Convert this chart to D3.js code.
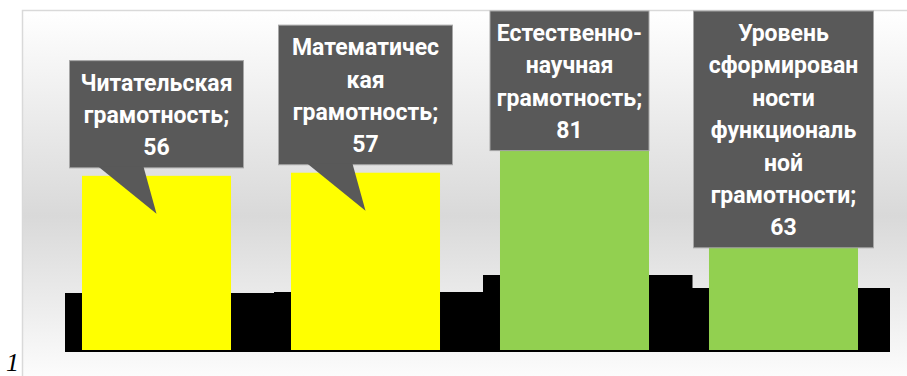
<!DOCTYPE html>
<html>
<head>
<meta charset="utf-8">
<script src="https://cdn.jsdelivr.net/npm/d3@7"></script>
<style>
    body { margin: 0; background: #ffffff; }
    #Chart { width: 907px; height: 376px; overflow: hidden; }
</style>
</head>
<body>
<div id="Chart"></div>
<script>
// Categories of the chart (the literacy types)
var categories = ["Читательская грамотность", "Математическая грамотность",
    "Естественно-научная грамотность", "Уровень сформированности функциональной грамотности"];

// Main series values
var values = [56, 57, 81, 63];

// Black background series (secondary scale)
var shadowValues = [59, 60, 77, 64];

// Wrapped data label lines, value is added as last line
var labelLines = [
    ["Читательская", "грамотность;"],
    ["Математичес", "кая", "грамотность;"],
    ["Естественно-", "научная", "грамотность;"],
    ["Уровень", "сформирован", "ности", "функциональ", "ной", "грамотности;"]
];

var width = 907, height = 376;

// Plot area bounds (pixels)
var plot = {left: 52, right: 888, bottom: 350, top: 39};

var svg = d3.select("#Chart")
    .append("svg")
    .attr("width", width)
    .attr("height", height);

/**
 * Background of the chart area: white -> grey -> white gradient.
 */
var defs = svg.append("defs");
var grad = defs.append("linearGradient")
    .attr("id", "bgGrad")
    .attr("x1", 0).attr("y1", 0)
    .attr("x2", 0).attr("y2", 1);
grad.append("stop").attr("offset", "0%").attr("stop-color", "#ffffff");
grad.append("stop").attr("offset", "54%").attr("stop-color", "#d9d9d9");
grad.append("stop").attr("offset", "100%").attr("stop-color", "#ffffff");

defs.append("clipPath")
    .attr("id", "plotClip")
    .append("rect")
    .attr("x", 22).attr("y", 10)
    .attr("width", 890 - 22).attr("height", 360);

svg.append("rect")
    .attr("x", 22.5)
    .attr("y", 10.5)
    .attr("width", 920)
    .attr("height", 380)
    .style("fill", "url(#bgGrad)")
    .style("stroke", "#d9d9d9")
    .style("stroke-width", 1.5);

/**
 * Scales
 */
var xScale = d3.scaleBand()
    .domain(categories)
    .range([plot.left, plot.right])
    .paddingInner(0.287)
    .paddingOuter(0.1435);

// Black series sits on its own band scale, shifted to the right
var x2Scale = d3.scaleBand()
    .domain(categories)
    .range([65, 901])
    .padding(0);

var yScale = d3.scaleLinear()
    .domain([0, 100])
    .range([plot.bottom, plot.top]);

var y2Scale = d3.scaleLinear()
    .domain([0, 100])
    .range([352, 252]);

var barColour = function (i) { return i < 2 ? "#ffff00" : "#92d050"; };

// Black series
svg.append("g")
    .attr("clip-path", "url(#plotClip)")
    .selectAll("rect")
    .data(shadowValues)
    .enter()
    .append("rect")
    .attr("x", function (d, i) { return x2Scale(categories[i]); })
    .attr("y", function (d) { return y2Scale(d); })
    .attr("width", x2Scale.bandwidth() + 0.5)
    .attr("height", function (d) { return y2Scale(0) - y2Scale(d); })
    .style("fill", "#000000");

// Main bars
svg.append("g")
    .selectAll("rect")
    .data(values)
    .enter()
    .append("rect")
    .attr("x", function (d, i) { return xScale(categories[i]); })
    .attr("y", function (d) { return yScale(d); })
    .attr("width", xScale.bandwidth())
    .attr("height", function (d) { return yScale(0) - yScale(d); })
    .style("fill", function (d, i) { return barColour(i); });

/**
 * Data label callouts
 */
var lineHeight = 32.4;
var boxWidths = [174, 174, 159, 180];
var labels = svg.append("g");

values.forEach(function (v, i) {
    var lines = labelLines[i].concat([String(v)]);
    var cx = xScale(categories[i]) + xScale.bandwidth() / 2;
    var bw = boxWidths[i];
    var bh = lines.length * lineHeight + 10;
    var bottom = yScale(v) - 8;
    var top = Math.max(bottom - bh, 11);  // keep inside the chart area
    bottom = top + bh;
    var boxCx = i === 2 ? cx - 5 : cx;

    labels.append("rect")
        .attr("x", boxCx - bw / 2)
        .attr("y", top)
        .attr("width", bw)
        .attr("height", bh)
        .style("fill", "#595959")
        .style("stroke", "#a6a6a6")
        .style("stroke-width", 1);

    // Tail pointing into the bar, only if it ends below the box
    var tip = [cx, yScale(v) + 38];
    if (tip[1] > bottom) {
        labels.append("path")
            .attr("d", "M" + (boxCx - 58) + "," + (bottom - 1) +
                "L" + (boxCx - 13) + "," + (bottom - 1) +
                "L" + tip[0] + "," + tip[1] + "Z")
            .style("fill", "#595959");
    }

    var txt = labels.append("text")
        .attr("text-anchor", "middle")
        .style("font-family", "Roboto, 'Noto Sans', sans-serif")
        .style("font-weight", "bold")
        .style("font-size", "23px")
        .style("fill", "#ffffff");
    lines.forEach(function (l, k) {
        txt.append("tspan")
            .attr("x", boxCx)
            .attr("y", top + 30 + k * lineHeight)
            .text(l);
    });
});

// Stray figure number at the bottom left, outside the chart frame
svg.append("text")
    .attr("x", 6)
    .attr("y", 371)
    .style("font-family", "'Liberation Serif', serif")
    .style("font-style", "italic")
    .style("font-size", "26px")
    .style("fill", "#000000")
    .text("1");
</script>
</body>
</html>
